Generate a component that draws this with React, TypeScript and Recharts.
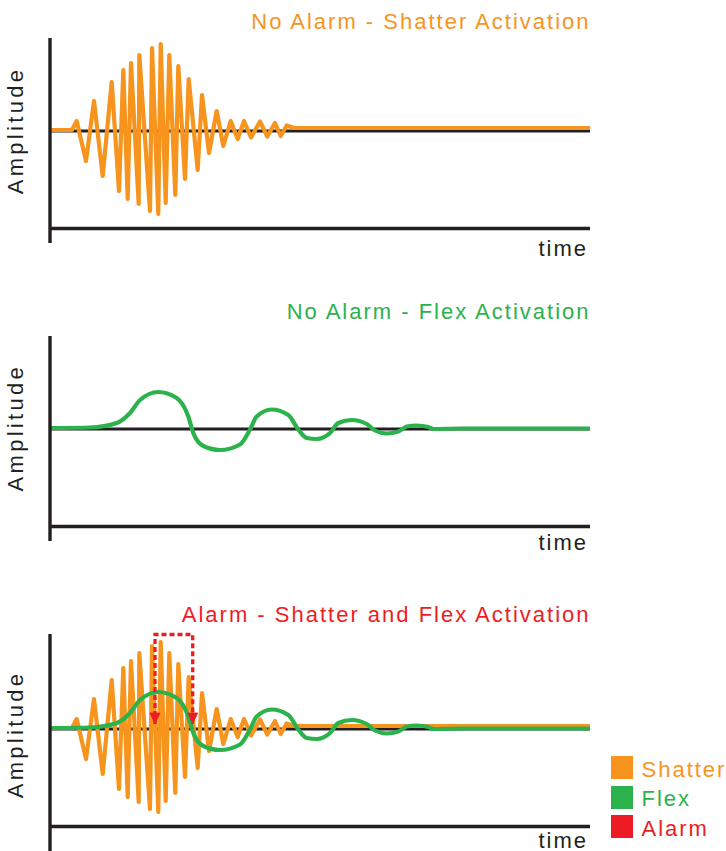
import {
  ComposedChart,
  Legend,
  Line,
  ReferenceLine,
  Scatter,
  XAxis,
  YAxis,
} from "recharts";

// shatter burst: time (px-like units from the axis) and amplitude
const shatterTime = [
  0, 22, 26.7, 36, 44, 52.7, 61.7, 69, 73.3, 77.7, 81, 88.7, 89.3, 100, 102,
  108.3, 110.7, 115.7, 119.3, 125.3, 128.3, 135, 138.7, 147.7, 152, 159, 166.7,
  173.3, 180.7, 187.7, 194, 201, 210, 217.3, 225, 230.7, 236.7, 244, 540,
];
const shatterAmp = [
  1, 1, 10, -30, 30, -45, 49, -60, 61, -68, 68, -73, 76, -80, 83, -83, 87, -72,
  76, -64, 65, -48, 52, -39, 36, -22, 20, -15, 10, -8, 10, -6.5, 9.5, -5.5, 8,
  -5, 5.5, 3, 3,
];

// flex wave
const flexTime = [
  0, 40, 66.7, 80, 90, 108.3, 126.7, 138.3, 143.3, 153.3, 170, 190, 200, 206.7,
  221.7, 238.3, 248.3, 256.7, 266.7, 280, 288.3, 301.7, 316.7, 325, 336.7,
  348.3, 356.7, 366.7, 378.3, 383.3, 410, 540,
];
const flexAmp = [
  1, 1.5, 6, 16, 29, 37, 31, 12.5, -4, -17, -21, -15.5, -0.5, 12.5, 19.5, 14,
  -0.5, -9, -10, -4, 6, 9, 5, -1.5, -4.5, -2.5, 2.5, 3.5, 2, 0, 0.5, 0.5,
];

// alarm window marker
const alarmTime = [105, 105, 142.7, 142.7];
const alarmAmp = [5, 94.5, 94.5, 5];

const titles = [
  "No Alarm - Shatter Activation",
  "No Alarm - Flex Activation",
  "Alarm - Shatter and Flex Activation",
];
const seriesNames = ["Shatter", "Flex", "Alarm"];

const INK = "#231f20";
const COLORS: Record<string, string> = {
  Shatter: "#f7941d",
  Flex: "#2bb24c",
  Alarm: "#ed1c24",
};
const FONT = {
  fontFamily: '"Liberation Sans", Arial, sans-serif',
  fontSize: 22,
  letterSpacing: 2,
};
const X_AXIS_AT = -97.5;

const zip = (ts: number[], as: number[]) => ts.map((t, i) => ({ t, a: as[i] }));
const shatter = zip(shatterTime, shatterAmp);
const flex = zip(flexTime, flexAmp);
const alarm = zip(alarmTime, alarmAmp);
const alarmEnds = [alarm[0], alarm[alarm.length - 1]];

// arrow head with its tip on the point
function ArrowHead(props: any) {
  const { cx, cy } = props;
  return (
    <path
      d={`M${cx - 5},${cy - 11} L${cx + 5},${cy - 11} L${cx},${cy} Z`}
      fill={COLORS.Alarm}
      stroke={COLORS.Alarm}
      strokeWidth={0.8}
    />
  );
}

function LegendBox({ payload }: any) {
  const items = seriesNames
    .map((n) => (payload || []).find((p: any) => p.value === n))
    .filter(Boolean);
  return (
    <div>
      {items.map((item: any) => (
        <div key={item.value} style={{ display: "flex", height: 29.5 }}>
          <span
            style={{ width: 22, height: 23, background: item.color, marginRight: 8.5 }}
          />
          <span
            style={{ ...FONT, lineHeight: "23px", paddingTop: 1.6, color: item.color }}
          >
            {item.value}
          </span>
        </div>
      ))}
    </div>
  );
}

function Panel({
  top,
  domain,
  title,
  color,
  titleTop,
  timeTop,
  ampCenter,
  width = 600,
  children,
}: any) {
  const height = 10 + (domain[1] - domain[0]) + 2;
  const cy = ampCenter - top;
  return (
    <>
      <div
        style={{
          position: "absolute",
          right: 135.5,
          top: titleTop,
          ...FONT,
          lineHeight: 1,
          color,
          whiteSpace: "nowrap",
        }}
      >
        {title}
      </div>
      <div style={{ position: "absolute", left: 0, top }}>
        <ComposedChart
          width={width}
          height={height}
          margin={{ top: 10, right: width - 590, bottom: 2, left: 0 }}
        >
          <XAxis type="number" dataKey="t" domain={[0, 540]} hide />
          <YAxis
            type="number"
            dataKey="a"
            domain={domain}
            width={50}
            tick={false}
            tickLine={false}
            axisLine={{ stroke: INK, strokeWidth: 3.4 }}
            label={{
              value: "Amplitude",
              content: () => (
                <text
                  x={23}
                  y={cy}
                  transform={`rotate(-90 23 ${cy})`}
                  textAnchor="middle"
                  fill={INK}
                  style={{ ...FONT, letterSpacing: 3.3 }}
                >
                  Amplitude
                </text>
              ),
            }}
          />
          <ReferenceLine y={0} stroke={INK} strokeWidth={3.2} />
          <ReferenceLine y={X_AXIS_AT} stroke={INK} strokeWidth={3.4} />
          {children}
        </ComposedChart>
      </div>
      <div
        style={{
          position: "absolute",
          right: 138,
          top: timeTop,
          ...FONT,
          lineHeight: 1,
          color: INK,
        }}
      >
        time
      </div>
    </>
  );
}

const shatterLine = (
  <Line
    key="s"
    data={shatter}
    dataKey="a"
    name="Shatter"
    type="linear"
    stroke={COLORS.Shatter}
    strokeWidth={4.2}
    strokeLinejoin="round"
    dot={false}
    activeDot={false}
    isAnimationActive={false}
  />
);
const flexLine = (
  <Line
    key="f"
    data={flex}
    dataKey="a"
    name="Flex"
    type="monotone"
    stroke={COLORS.Flex}
    strokeWidth={4.2}
    dot={false}
    activeDot={false}
    isAnimationActive={false}
  />
);

export default function App() {
  return (
    <div
      style={{
        position: "absolute",
        left: 0,
        top: 0,
        width: 726,
        height: 851,
        overflow: "hidden",
        background: "#fff",
      }}
    >
      <Panel
        top={28}
        domain={[-112, 93]}
        title={titles[0]}
        color={COLORS.Shatter}
        titleTop={10.7}
        timeTop={238.1}
        ampCenter={130.5}
      >
        {shatterLine}
      </Panel>
      <Panel
        top={326.3}
        domain={[-112, 93]}
        title={titles[1]}
        color={COLORS.Flex}
        titleTop={300.9}
        timeTop={532.4}
        ampCenter={428}
      >
        {flexLine}
      </Panel>
      <Panel
        top={623.5}
        domain={[-122, 95]}
        title={titles[2]}
        color={COLORS.Alarm}
        titleTop={603.7}
        timeTop={829.5}
        ampCenter={734}
        width={726}
      >
        {shatterLine}
        {flexLine}
        <Line
          data={alarm}
          dataKey="a"
          name="Alarm"
          type="linear"
          stroke={COLORS.Alarm}
          strokeWidth={3.3}
          strokeDasharray="5 3"
          dot={false}
          activeDot={false}
          isAnimationActive={false}
          zIndex={700}
        />
        <Scatter
          data={alarmEnds}
          dataKey="a"
          name="alarm-arrows"
          legendType="none"
          shape={ArrowHead}
          isAnimationActive={false}
          zIndex={800}
        />
        <Legend
          layout="vertical"
          align="center"
          verticalAlign="middle"
          content={LegendBox}
          wrapperStyle={{ left: 611, top: 132.5, width: "auto" }}
        />
      </Panel>
    </div>
  );
}
